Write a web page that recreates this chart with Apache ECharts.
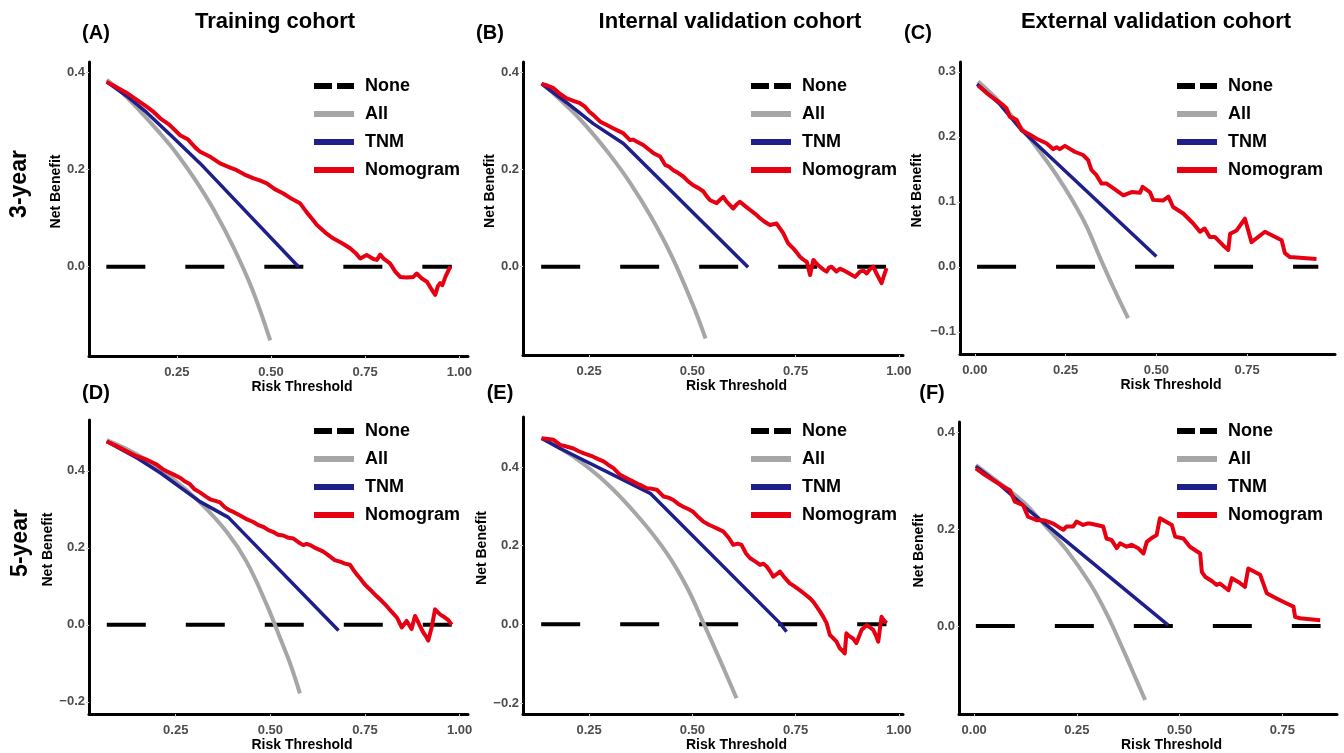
<!DOCTYPE html>
<html><head><meta charset="utf-8">
<script src="https://cdn.jsdelivr.net/npm/echarts@6/dist/echarts.min.js"></script>
<style>html,body{margin:0;padding:0;background:#fff}#c{width:1344px;height:753px}</style>
</head><body><div id="c"></div>
<script>
// ---------- tick labels ----------
const xTicksAB = [0.25, 0.5, 0.75, 1.0];
const xTicksC = [0, 0.25, 0.5, 0.75];
const yTicksAB = [0, 0.2, 0.4];
const yTicksC = [-0.1, 0, 0.1, 0.2, 0.3];
const yTicksDE = [-0.2, 0, 0.2, 0.4];
const yTicksF = [0, 0.2, 0.4];
const seriesNames = ['None', 'All', 'TNM', 'Nomogram'];
const colTitles = ['Training cohort', 'Internal validation cohort', 'External validation cohort'];
const rowTitles = ['3-year', '5-year'];
const panelTags = ['(A)', '(B)', '(C)', '(D)', '(E)', '(F)'];

// ---------- Panel A (3-year, training) ----------
const noneA = [[0.063, 0], [0.980, 0]];
const allA = [[0.064,0.385],[0.10,0.362],[0.15,0.323],[0.20,0.280],[0.25,0.233],[0.30,0.178],[0.35,0.115],[0.40,0.041],[0.45,-0.046],[0.498,-0.152]];
const tnmA = [[0.064,0.381],[0.117,0.352],[0.170,0.318],[0.241,0.266],[0.312,0.213],[0.573,0.0]];
const nomoA = [[0.064,0.381],[0.09,0.370],[0.12,0.357],[0.144,0.344],[0.17,0.330],[0.19,0.318],[0.206,0.306],[0.23,0.293],[0.259,0.271],[0.28,0.262],[0.30,0.245],[0.312,0.237],[0.34,0.226],[0.365,0.213],[0.39,0.205],[0.409,0.199],[0.43,0.190],[0.454,0.182],[0.47,0.178],[0.489,0.172],[0.51,0.160],[0.533,0.151],[0.555,0.140],[0.577,0.131],[0.595,0.112],[0.61,0.098],[0.622,0.086],[0.645,0.070],[0.666,0.058],[0.69,0.048],[0.71,0.038],[0.725,0.028],[0.737,0.017],[0.754,0.024],[0.772,0.016],[0.781,0.014],[0.790,0.025],[0.80,0.016],[0.816,0.007],[0.83,-0.010],[0.843,-0.021],[0.86,-0.022],[0.878,-0.021],[0.887,-0.014],[0.90,-0.024],[0.914,-0.031],[0.925,-0.045],[0.936,-0.058],[0.943,-0.040],[0.949,-0.034],[0.955,-0.038],[0.963,-0.021],[0.976,0.0]];

// ---------- Panel B (3-year, internal) ----------
const noneB = [[0.134, 0], [0.969, 0]];
const allB = [[0.135,0.378],[0.17,0.352],[0.212,0.318],[0.25,0.283],[0.30,0.231],[0.35,0.172],[0.40,0.103],[0.45,0.022],[0.50,-0.076],[0.532,-0.148]];
const tnmB = [[0.135,0.377],[0.196,0.338],[0.26,0.295],[0.333,0.254],[0.635,-0.001]];
const nomoB = [[0.135,0.377],[0.150,0.373],[0.164,0.368],[0.180,0.356],[0.196,0.347],[0.212,0.342],[0.228,0.337],[0.240,0.330],[0.250,0.320],[0.260,0.313],[0.277,0.299],[0.293,0.292],[0.309,0.285],[0.321,0.280],[0.333,0.275],[0.349,0.261],[0.357,0.262],[0.365,0.258],[0.381,0.251],[0.394,0.242],[0.406,0.234],[0.422,0.227],[0.434,0.210],[0.444,0.206],[0.454,0.199],[0.466,0.193],[0.478,0.186],[0.490,0.176],[0.502,0.168],[0.515,0.162],[0.527,0.155],[0.535,0.145],[0.543,0.137],[0.559,0.131],[0.567,0.138],[0.575,0.144],[0.583,0.134],[0.591,0.127],[0.599,0.120],[0.607,0.128],[0.615,0.134],[0.628,0.125],[0.640,0.117],[0.652,0.109],[0.664,0.100],[0.676,0.092],[0.688,0.086],[0.704,0.089],[0.712,0.079],[0.720,0.069],[0.732,0.048],[0.744,0.038],[0.752,0.030],[0.760,0.021],[0.768,0.015],[0.777,0.010],[0.785,-0.017],[0.793,0.014],[0.801,0.006],[0.809,0.0],[0.817,-0.006],[0.825,-0.010],[0.831,-0.002],[0.837,0.0],[0.849,-0.010],[0.857,-0.004],[0.865,-0.007],[0.880,-0.014],[0.894,-0.021],[0.906,-0.010],[0.914,-0.008],[0.922,-0.014],[0.930,-0.005],[0.938,0.0],[0.946,-0.014],[0.952,-0.024],[0.958,-0.034],[0.970,-0.003]];

// ---------- Panel C (3-year, external) ----------
const noneC = [[0.006, 0], [0.946, 0]];
const allC = [[0.009,0.285],[0.069,0.253],[0.129,0.213],[0.179,0.177],[0.225,0.141],[0.271,0.100],[0.308,0.062],[0.344,0.015],[0.381,-0.031],[0.422,-0.079]];
const tnmC = [[0.006,0.281],[0.069,0.250],[0.129,0.210],[0.500,0.016]];
const nomoC = [[0.009,0.279],[0.035,0.266],[0.060,0.256],[0.075,0.250],[0.087,0.244],[0.096,0.231],[0.115,0.226],[0.129,0.210],[0.152,0.203],[0.170,0.197],[0.197,0.190],[0.216,0.181],[0.225,0.184],[0.234,0.181],[0.248,0.186],[0.275,0.177],[0.298,0.172],[0.312,0.164],[0.321,0.149],[0.335,0.141],[0.349,0.128],[0.363,0.128],[0.381,0.121],[0.409,0.110],[0.432,0.115],[0.455,0.114],[0.462,0.123],[0.482,0.115],[0.491,0.103],[0.518,0.102],[0.533,0.108],[0.546,0.092],[0.574,0.082],[0.601,0.067],[0.620,0.054],[0.633,0.059],[0.647,0.046],[0.661,0.046],[0.684,0.033],[0.698,0.026],[0.703,0.051],[0.721,0.056],[0.744,0.074],[0.762,0.038],[0.799,0.054],[0.845,0.041],[0.854,0.021],[0.868,0.015],[0.941,0.012]];

// ---------- Panel D (5-year, training) ----------
const noneD = [[0.068, 0], [0.979, 0]];
const allD = [[0.068,0.480],[0.156,0.438],[0.244,0.378],[0.314,0.318],[0.385,0.241],[0.437,0.164],[0.490,0.053],[0.526,-0.035],[0.552,-0.100],[0.578,-0.178]];
const tnmD = [[0.068,0.476],[0.15,0.432],[0.209,0.395],[0.314,0.320],[0.389,0.279],[0.680,-0.015]];
const nomoD = [[0.068,0.476],[0.09,0.466],[0.112,0.455],[0.13,0.446],[0.147,0.438],[0.173,0.429],[0.19,0.421],[0.200,0.416],[0.215,0.405],[0.226,0.399],[0.245,0.390],[0.261,0.382],[0.275,0.372],[0.288,0.365],[0.300,0.352],[0.314,0.344],[0.330,0.333],[0.341,0.326],[0.355,0.322],[0.367,0.318],[0.380,0.305],[0.393,0.297],[0.405,0.292],[0.420,0.284],[0.440,0.273],[0.455,0.267],[0.470,0.258],[0.482,0.254],[0.495,0.246],[0.508,0.241],[0.520,0.234],[0.534,0.232],[0.548,0.226],[0.561,0.224],[0.575,0.214],[0.587,0.207],[0.596,0.210],[0.605,0.207],[0.620,0.199],[0.640,0.190],[0.650,0.183],[0.658,0.177],[0.670,0.168],[0.684,0.164],[0.697,0.159],[0.710,0.156],[0.719,0.143],[0.728,0.131],[0.737,0.121],[0.746,0.109],[0.754,0.100],[0.768,0.087],[0.781,0.074],[0.795,0.061],[0.807,0.049],[0.820,0.034],[0.834,0.019],[0.847,-0.007],[0.860,0.010],[0.873,-0.011],[0.882,0.023],[0.890,0.008],[0.895,-0.003],[0.904,-0.020],[0.911,-0.030],[0.917,-0.041],[0.926,-0.007],[0.935,0.040],[0.942,0.033],[0.948,0.027],[0.961,0.019],[0.970,0.012],[0.979,0.0]];

// ---------- Panel E (5-year, internal) ----------
const noneE = [[0.134, 0], [0.970, 0]];
const allE = [[0.135,0.473],[0.212,0.426],[0.293,0.358],[0.373,0.269],[0.438,0.181],[0.486,0.096],[0.527,0.003],[0.567,-0.091],[0.607,-0.188]];
const tnmE = [[0.135,0.473],[0.180,0.447],[0.398,0.333],[0.712,0.003],[0.728,-0.019]];
const nomoE = [[0.135,0.473],[0.150,0.471],[0.164,0.469],[0.180,0.456],[0.195,0.452],[0.212,0.447],[0.225,0.440],[0.236,0.435],[0.260,0.426],[0.272,0.420],[0.285,0.414],[0.297,0.405],[0.309,0.397],[0.325,0.380],[0.340,0.372],[0.357,0.363],[0.372,0.355],[0.390,0.346],[0.400,0.345],[0.414,0.342],[0.430,0.325],[0.442,0.322],[0.454,0.316],[0.466,0.306],[0.478,0.299],[0.490,0.293],[0.502,0.286],[0.515,0.272],[0.527,0.261],[0.540,0.253],[0.551,0.248],[0.563,0.242],[0.575,0.236],[0.588,0.220],[0.599,0.202],[0.610,0.205],[0.619,0.202],[0.630,0.180],[0.640,0.168],[0.652,0.160],[0.664,0.151],[0.672,0.154],[0.680,0.147],[0.690,0.132],[0.696,0.121],[0.705,0.128],[0.712,0.134],[0.724,0.118],[0.736,0.104],[0.748,0.096],[0.760,0.087],[0.772,0.077],[0.785,0.066],[0.793,0.057],[0.801,0.045],[0.810,0.031],[0.817,0.019],[0.825,0.003],[0.833,-0.027],[0.841,-0.035],[0.849,-0.044],[0.857,-0.061],[0.864,-0.068],[0.869,-0.074],[0.873,-0.023],[0.880,-0.030],[0.889,-0.036],[0.897,-0.048],[0.904,-0.030],[0.910,-0.014],[0.916,-0.008],[0.922,-0.002],[0.930,-0.008],[0.938,-0.014],[0.945,-0.030],[0.950,-0.044],[0.958,0.019],[0.964,0.010],[0.970,0.003]];

// ---------- Panel F (5-year, external) ----------
const noneF = [[0.004, 0], [0.843, 0]];
const allF = [[0.004,0.333],[0.063,0.295],[0.119,0.257],[0.168,0.212],[0.225,0.157],[0.282,0.088],[0.322,0.026],[0.363,-0.050],[0.395,-0.112],[0.416,-0.153]];
const tnmF = [[0.004,0.330],[0.063,0.292],[0.136,0.237],[0.472,0.002]];
const nomoF = [[0.004,0.326],[0.020,0.316],[0.038,0.306],[0.055,0.297],[0.071,0.288],[0.087,0.281],[0.099,0.257],[0.119,0.250],[0.131,0.226],[0.152,0.219],[0.168,0.219],[0.180,0.216],[0.192,0.212],[0.205,0.205],[0.217,0.199],[0.225,0.206],[0.241,0.206],[0.249,0.216],[0.265,0.209],[0.275,0.212],[0.282,0.212],[0.298,0.209],[0.314,0.206],[0.322,0.181],[0.334,0.178],[0.347,0.161],[0.355,0.171],[0.371,0.164],[0.383,0.168],[0.399,0.161],[0.412,0.150],[0.420,0.174],[0.432,0.182],[0.444,0.188],[0.452,0.223],[0.466,0.216],[0.481,0.209],[0.489,0.185],[0.509,0.181],[0.525,0.164],[0.550,0.150],[0.554,0.112],[0.562,0.102],[0.580,0.092],[0.590,0.085],[0.598,0.088],[0.619,0.074],[0.627,0.099],[0.645,0.090],[0.659,0.081],[0.667,0.119],[0.696,0.106],[0.712,0.068],[0.736,0.057],[0.757,0.048],[0.777,0.040],[0.781,0.019],[0.793,0.016],[0.842,0.012]];

// ---------- layout (positions / styles only) ----------
const FONT = '"Liberation Sans", Arial, Helvetica, sans-serif';
const COLORS = { None: '#000000', All: '#a6a6a6', TNM: '#1f1f8c', Nomogram: '#e60012' };
const panels = [
  { grid:{left:89, top:62, width:379, height:294}, x:[0.017,1.023], y:[-0.184,0.422], xt:xTicksAB, yt:yTicksAB, gx:24, gy:25, lg:[314,76], d:[noneA,allA,tnmA,nomoA] },
  { grid:{left:523, top:62, width:380, height:293}, x:[0.090,1.010], y:[-0.182,0.422], xt:xTicksAB, yt:yTicksAB, gx:23, gy:25, lg:[751,76], d:[noneB,allB,tnmB,nomoB] },
  { grid:{left:960, top:62, width:375, height:292}, x:[-0.041,0.992], y:[-0.134,0.315], xt:xTicksC, yt:yTicksC, gx:24, gy:36, lg:[1177,76], d:[noneC,allC,tnmC,nomoC] },
  { grid:{left:89, top:420, width:379, height:298}, x:[0.021,1.022], y:[-0.232,0.532], xt:xTicksAB, yt:yTicksDE, gx:23, gy:32, lg:[314,421], d:[noneD,allD,tnmD,nomoD] },
  { grid:{left:523, top:417, width:380, height:297}, x:[0.090,1.010], y:[-0.228,0.527], xt:xTicksAB, yt:yTicksDE, gx:23, gy:32, lg:[751,421], d:[noneE,allE,tnmE,nomoE] },
  { grid:{left:959, top:422, width:378, height:292}, x:[-0.037,0.883], y:[-0.182,0.422], xt:xTicksC, yt:yTicksF, gx:23, gy:33, lg:[1177,421], d:[noneF,allF,tnmF,nomoF] }
];
const fmtY = v => (v < 0 ? '\u2212' : '') + Math.abs(v).toFixed(1);
const fmtX = v => (v < 0 ? '\u2212' : '') + Math.abs(v).toFixed(2);

const grids = [], xAxes = [], yAxes = [], series = [], legends = [];
panels.forEach((p, i) => {
  grids.push(Object.assign({ containLabel: false }, p.grid));
  xAxes.push({
    gridIndex: i, type: 'value', min: p.x[0], max: p.x[1],
    axisLine: { show: true, onZero: false, lineStyle: { color: '#000', width: 3 } },
    axisTick: { show: true, length: 3, customValues: p.xt, lineStyle: { color: '#cccccc', width: 1 } },
    axisLabel: { customValues: p.xt, formatter: fmtX, color: '#4d4d4d', fontWeight: 'bold', fontSize: 13, fontFamily: FONT, margin: 10 },
    splitLine: { show: false },
    name: 'Risk Threshold', nameLocation: 'middle', nameGap: p.gx,
    nameTextStyle: { color: '#000', fontWeight: 'bold', fontSize: 14, fontFamily: FONT, padding: [0, 0, 0, 47] }
  });
  yAxes.push({
    gridIndex: i, type: 'value', min: p.y[0], max: p.y[1],
    axisLine: { show: true, onZero: false, lineStyle: { color: '#000', width: 3 } },
    axisTick: { show: true, length: 3, customValues: p.yt, lineStyle: { color: '#cccccc', width: 1 } },
    axisLabel: { customValues: p.yt, formatter: fmtY, color: '#4d4d4d', fontWeight: 'bold', fontSize: 13, fontFamily: FONT, margin: 4 },
    splitLine: { show: false },
    name: 'Net Benefit', nameLocation: 'middle', nameGap: p.gy,
    nameTextStyle: { color: '#000', fontWeight: 'bold', fontSize: 14, fontFamily: FONT, padding: [0, 0, 0, 35] }
  });
  seriesNames.forEach((nm, k) => {
    const s = {
      name: nm, type: 'line', xAxisIndex: i, yAxisIndex: i, data: p.d[k],
      symbol: 'none', showSymbol: false, silent: true, animation: false,
      color: COLORS[nm], z: 2 + k,
      lineStyle: { color: COLORS[nm], width: 4, cap: 'butt', join: 'round' }
    };
    if (nm === 'None') s.lineStyle.type = [39, 40];
    if (nm === 'All') s.smooth = 0.4;
    if (nm === 'TNM') s.lineStyle.width = 3.5;
    series.push(s);
  });
  legends.push({
    left: p.lg[0], top: p.lg[1], orient: 'vertical', padding: 0,
    itemWidth: 40, itemHeight: 6, itemGap: 8, selectedMode: false,
    textStyle: { color: '#000', fontWeight: 'bold', fontSize: 18, fontFamily: FONT, lineHeight: 20, padding: [0, 0, 0, 6] },
    data: [
      { name: 'None', icon: 'path://M0,0H18V6H0Z M23,0H40V6H23Z' },
      { name: 'All', icon: 'rect' },
      { name: 'TNM', icon: 'rect' },
      { name: 'Nomogram', icon: 'rect' }
    ]
  });
});

const txt = (text, x, y, size, rot) => ({
  type: 'text', x: x, y: y, rotation: rot || 0, silent: true,
  style: { text: text, fill: '#000', font: 'bold ' + size + 'px ' + FONT, align: 'center', verticalAlign: 'middle' }
});
const graphics = [
  txt(colTitles[0], 275, 22, 22), txt(colTitles[1], 730, 22, 22), txt(colTitles[2], 1156, 22, 22),
  txt(panelTags[0], 96, 33, 20), txt(panelTags[1], 490, 33, 20), txt(panelTags[2], 918, 33, 20),
  txt(panelTags[3], 96, 393, 20), txt(panelTags[4], 500, 393, 20), txt(panelTags[5], 932, 393, 20),
  txt(rowTitles[0], 20, 184, 23, Math.PI / 2), txt(rowTitles[1], 21, 543, 23, Math.PI / 2)
];

const chart = echarts.init(document.getElementById('c'), null, { renderer: 'canvas' });
chart.setOption({
  backgroundColor: '#ffffff', animation: false,
  grid: grids, xAxis: xAxes, yAxis: yAxes, series: series, legend: legends,
  graphic: graphics
});
</script>
</body></html>
